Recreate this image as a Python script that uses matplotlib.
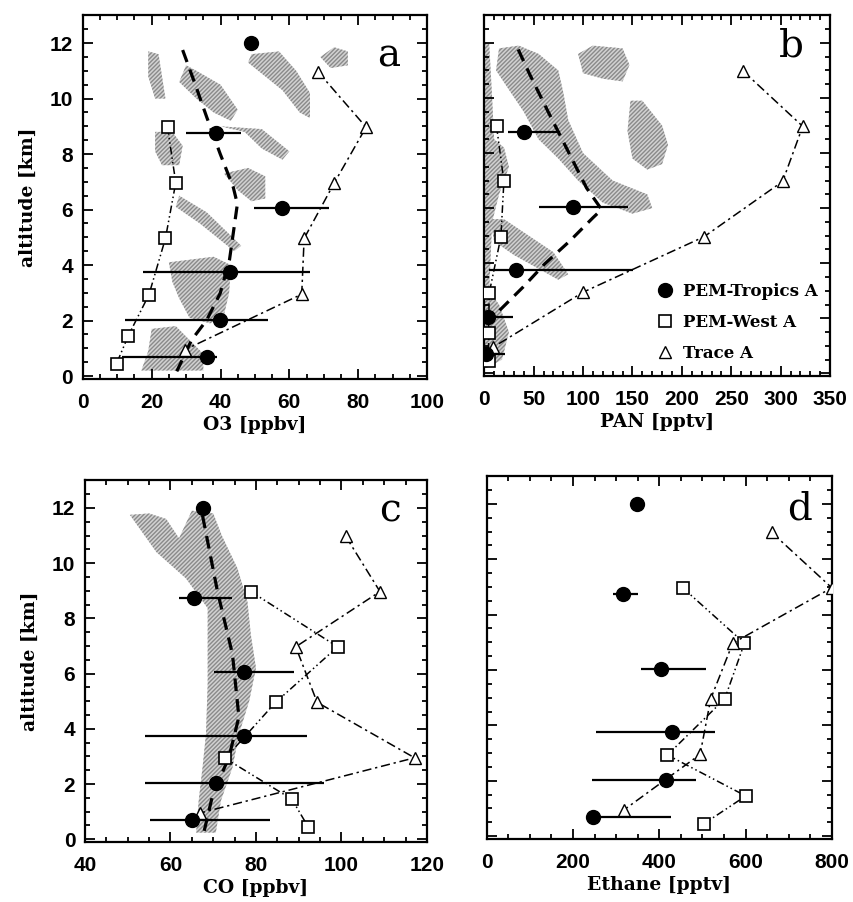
import numpy as np
import matplotlib
matplotlib.use("Agg")
import matplotlib.pyplot as plt
from matplotlib.ticker import MultipleLocator
from matplotlib.lines import Line2D
from matplotlib.font_manager import FontProperties

# ---------------- data ----------------
alt_trop = [12.0, 8.75, 6.05, 3.75, 2.03, 0.70]
alt_west = [8.97, 6.97, 4.96, 2.93, 1.45, 0.45]
alt_trace = [10.97, 8.97, 6.97, 4.96, 2.95, 0.95]

o3_trop = [49.0, 38.7, 57.8, 42.8, 39.9, 36.2]
o3_lo = [np.nan, 30.0, 49.6, 17.6, 12.2, 11.3]
o3_hi = [np.nan, 46.0, 71.4, 66.1, 53.9, 38.9]
o3_west = [24.6, 27.0, 24.0, 19.2, 13.2, 9.8]
o3_trace = [68.3, 82.3, 73.1, 64.3, 63.6, 29.7]
o3_model_x = [29.0, 32.6, 36.0, 39.9, 43.7, 44.9, 43.7, 42.6, 39.9, 36.0, 31.6, 27.3]
o3_model_alt = [11.75, 10.53, 9.33, 8.01, 6.81, 6.2, 5.14, 4.18, 2.98, 2.02, 1.3, 0.17]

pan_trop = [np.nan, 40.2, 89.4, 32.1, 4.0, 2.0]
pan_lo = [np.nan, 24.3, 55.7, 5.0, 0.0, 0.0]
pan_hi = [np.nan, 76.6, 145.1, 150.9, 29.4, 21.0]
pan_west = [12.5, 19.9, 16.9, 5.1, 4.4, 4.4]
pan_trace = [262.2, 322.3, 302.0, 222.4, 100.2, 9.0]
pan_model_x = [34.4, 46.0, 64.8, 83.4, 103.6, 118.8, 110.0, 86.7, 61.4, 39.5, 15.9, 9.0]
pan_model_alt = [11.76, 10.86, 9.49, 8.17, 6.73, 5.95, 5.65, 4.81, 3.98, 3.14, 2.3, 2.0]

co_trop = [67.5, 65.4, 77.2, 77.2, 70.7, 65.0]
co_lo = [np.nan, 61.9, 70.1, 54.1, 54.0, 55.3]
co_hi = [np.nan, 74.5, 88.8, 91.9, 95.8, 83.3]
co_west = [78.8, 99.1, 84.6, 72.8, 88.4, 92.2]
co_trace = [101.0, 109.0, 89.3, 94.3, 117.1, 66.9]
co_model_x = [67.5, 71.0, 74.5, 76.0, 73.7, 69.8, 67.7]
co_model_alt = [11.72, 8.97, 6.7, 4.43, 2.99, 1.56, 0.18]

eth_trop = [347.8, 316.8, 404.2, 428.9, 415.8, 245.7]
eth_lo = [np.nan, 292.0, 357.8, 253.5, 244.2, 245.7]
eth_hi = [np.nan, 351.6, 508.5, 529.4, 484.5, 426.6]
eth_west = [454.4, 597.4, 551.8, 418.9, 600.5, 503.9]
eth_trace = [660.7, 800.0, 570.3, 519.3, 494.6, 318.4]

# shaded (distribution) regions: lists of (value, altitude) outlines
o3_shade = [
    [(20, 1.7), (27, 1.8), (31, 1.3), (35, 0.8), (35, 0.2), (17, 0.2), (19, 0.9)],
    [(25, 4.1), (38, 4.3), (43, 4.0), (42.5, 3.0), (41, 2.2), (37, 1.9), (31, 2.1), (28, 2.8), (26, 3.4)],
    [(21, 8.8), (26, 8.8), (29, 8.3), (28, 7.6), (23, 7.6), (21, 8.1)],
    [(30, 11.2), (33, 11.0), (40, 10.5), (45, 9.6), (43, 9.2), (38, 9.5), (33, 10.0), (28, 10.6)],
    [(49, 11.6), (57, 11.7), (62, 11.0), (66, 10.2), (66, 9.3), (63, 9.5), (58, 10.3), (52, 10.9), (48, 11.3)],
    [(69, 11.5), (73, 11.85), (77, 11.7), (77, 11.2), (72, 11.1)],
    [(19, 11.7), (22, 11.6), (23, 10.8), (24, 10.0), (21, 10.0), (19, 10.8)],
    [(41, 7.3), (48, 7.5), (53, 7.2), (53, 6.4), (49, 6.3), (45, 6.7)],
    [(28, 6.5), (36, 5.9), (46, 4.7), (44, 4.5), (34, 5.5), (27, 6.1)],
    [(40, 9.0), (47, 8.8), (52, 8.2), (58, 7.8), (60, 8.1), (52, 8.9)],
]
pan_shade = [
    [(15, 11.8), (35, 11.9), (55, 11.6), (75, 11.0), (80, 10.2), (85, 9.2), (100, 8.0), (130, 7.0),
     (165, 6.5), (170, 6.0), (150, 5.8), (120, 6.2), (95, 7.0), (75, 7.8), (55, 8.5), (40, 9.5),
     (25, 10.3), (12, 11.0)],
    [(95, 11.6), (110, 11.9), (140, 11.8), (147, 11.2), (140, 10.6), (120, 10.7), (100, 10.9)],
    [(148, 9.9), (160, 9.9), (180, 9.0), (186, 8.3), (180, 7.6), (165, 7.4), (150, 7.8), (145, 8.8)],
    [(6, 5.6), (20, 5.6), (45, 5.0), (70, 4.4), (85, 3.6), (75, 3.4), (55, 3.8), (30, 4.3), (10, 4.8)],
    [(0, 12.0), (5, 12.0), (8, 10.0), (10, 8.5), (20, 8.2), (25, 7.5), (15, 6.5), (8, 5.5), (5, 3.0),
     (15, 2.5), (25, 1.5), (18, 0.5), (3, 0.2), (0, 0.2)],
]
co_shade = [
    [(50.5, 11.75), (55, 11.8), (59, 11.6), (62, 10.9), (65, 11.9), (70, 11.8), (72, 11.0),
     (75.7, 9.8), (78, 8.6), (78.8, 7.4), (80, 6.2), (78.4, 5.0), (76, 3.8), (74.5, 2.6),
     (71.8, 1.4), (70.6, 0.24), (66, 0.24), (66.6, 1.4), (67.5, 2.6), (68.3, 3.8), (68.7, 5.6),
     (68.7, 6.8), (68.7, 8.37), (63.6, 9.45), (56.7, 10.4)],
]

# ---------------- styling ----------------
TICK_FP = FontProperties(family="Liberation Sans", weight="bold", size=15)
LABEL_FONT = dict(family="DejaVu Serif", weight="bold", size=13.5)
DASH_WEST = (0, (5, 2, 1, 2, 1, 2))
DASH_TRACE = (0, (6, 2.5, 1.5, 2.5))

fig = plt.figure(figsize=(8.54, 9.02), dpi=100)
positions = [
    [0.097, 0.580, 0.403, 0.403],
    [0.567, 0.583, 0.405, 0.400],
    [0.0995, 0.0665, 0.4005, 0.401],
    [0.570, 0.070, 0.404, 0.402],
]
axes = [fig.add_axes(p) for p in positions]

panels = [
    dict(trop=o3_trop, lo=o3_lo, hi=o3_hi, west=o3_west, trace=o3_trace,
         mx=o3_model_x, malt=o3_model_alt, shade=o3_shade,
         xlim=(0, 100), major=20, minor=5, xlabel="O3 [ppbv]", letter="a",
         lpos=(0.89, 0.86), ylab=True),
    dict(trop=pan_trop, lo=pan_lo, hi=pan_hi, west=pan_west, trace=pan_trace,
         mx=pan_model_x, malt=pan_model_alt, shade=pan_shade,
         xlim=(0, 350), major=50, minor=10, xlabel="PAN [pptv]", letter="b",
         lpos=(0.889, 0.885), ylab=False),
    dict(trop=co_trop, lo=co_lo, hi=co_hi, west=co_west, trace=co_trace,
         mx=co_model_x, malt=co_model_alt, shade=co_shade,
         xlim=(40, 120), major=20, minor=5, xlabel="CO [ppbv]", letter="c",
         lpos=(0.893, 0.885), ylab=True),
    dict(trop=eth_trop, lo=eth_lo, hi=eth_hi, west=eth_west, trace=eth_trace,
         mx=None, malt=None, shade=[],
         xlim=(0, 800), major=200, minor=50, xlabel="Ethane [pptv]", letter="d",
         lpos=(0.907, 0.88), ylab=False),
]

for ax, p in zip(axes, panels):
    for poly in p["shade"]:
        xs = [q[0] for q in poly]
        ys = [q[1] for q in poly]
        ax.fill(xs, ys, facecolor="#d2d2d2", edgecolor="#8a8a8a", hatch="////////",
                linewidth=0, zorder=1)
    if p["mx"] is not None:
        ax.plot(p["mx"], p["malt"], color="black", lw=2.3, ls=(0, (4, 2.5)), zorder=2)
    # error bars
    for a, lo, hi in zip(alt_trop, p["lo"], p["hi"]):
        if np.isfinite(lo):
            ax.hlines(a, lo, hi, color="black", lw=1.6, zorder=3)
    ax.plot(p["west"], alt_west, color="black", lw=1.1, ls=DASH_WEST, marker="s",
            ms=8, mfc="white", mec="black", mew=1.2, zorder=4)
    ax.plot(p["trace"], alt_trace, color="black", lw=1.1, ls=DASH_TRACE, marker="^",
            ms=8, mfc="white", mec="black", mew=1.0, zorder=4)
    ax.plot(p["trop"], alt_trop, ls="none", marker="o", ms=10, mfc="black",
            mec="black", zorder=5)

    ax.set_xlim(*p["xlim"])
    ax.set_ylim(-0.1, 13)
    ax.xaxis.set_major_locator(MultipleLocator(p["major"]))
    ax.xaxis.set_minor_locator(MultipleLocator(p["minor"]))
    ax.yaxis.set_major_locator(MultipleLocator(2))
    ax.yaxis.set_minor_locator(MultipleLocator(0.5))
    ax.tick_params(which="both", direction="in", top=True, right=True, width=1.3)
    ax.tick_params(which="major", length=7)
    ax.tick_params(which="minor", length=3.5)
    ax.tick_params(axis="x", which="major", pad=10)
    ax.tick_params(axis="y", which="major", pad=7)
    for s in ax.spines.values():
        s.set_linewidth(1.6)
    for lab in ax.get_xticklabels():
        lab.set_fontproperties(TICK_FP)
    if p["ylab"]:
        for lab in ax.get_yticklabels():
            lab.set_fontproperties(TICK_FP)
        ax.set_ylabel("altitude [km]", fontdict=LABEL_FONT, labelpad=9)
    else:
        ax.set_yticklabels([])
    ax.set_xlabel(p["xlabel"], fontdict=LABEL_FONT, labelpad=3)
    ax.text(p["lpos"][0], p["lpos"][1], p["letter"], transform=ax.transAxes,
            ha="center", va="baseline", fontsize=28, family="DejaVu Serif",
            fontweight="normal", zorder=6)

# legend in panel b
handles = [
    Line2D([], [], ls="none", marker="o", ms=10, mfc="black", mec="black"),
    Line2D([], [], ls="none", marker="s", ms=8.5, mfc="white", mec="black", mew=1.2),
    Line2D([], [], ls="none", marker="^", ms=8.5, mfc="white", mec="black", mew=1.0),
]
leg = axes[1].legend(handles, ["PEM-Tropics A", "PEM-West A", "Trace A"],
                     loc="upper left", bbox_to_anchor=(0.45, 0.30), frameon=False,
                     handlelength=1.2, handletextpad=0.5, labelspacing=0.85,
                     prop=dict(family="DejaVu Serif", weight="bold", size=12))

fig.savefig("out.png", dpi=100)
